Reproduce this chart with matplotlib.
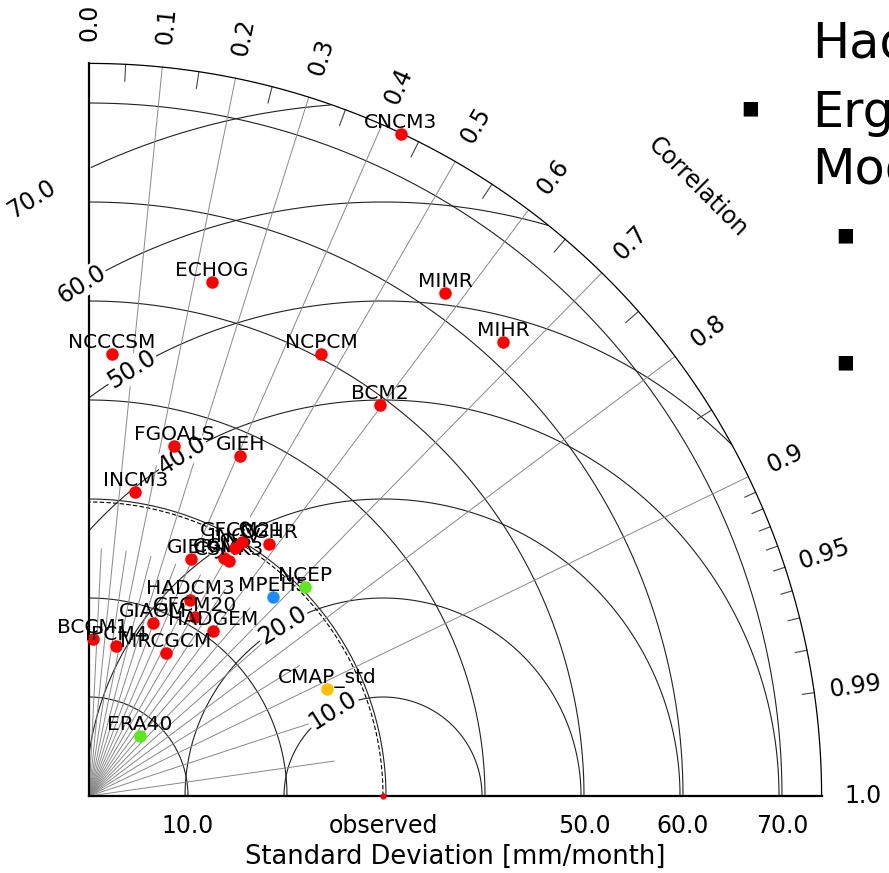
# Taylor diagram of precipitation std / correlation vs observed
import numpy as np
import matplotlib as mpl
mpl.use('Agg')
import matplotlib.pyplot as plt

# ---- data ----
models = ['CNCM3', 'ECHOG', 'MIMR', 'MIHR', 'NCCCSM', 'NCPCM', 'BCM2',
          'FGOALS', 'GIEH', 'INCM3', 'GIER', 'CGMR', 'CSMK3', 'INGV',
          'GFCM21', 'CGHR', 'HADCM3', 'GFCM20', 'GIAOM', 'HADGEM',
          'BCCM1', 'IPCM4', 'MRCGCM', 'MPEH5', 'NCEP', 'CMAP_std', 'ERA40']
model_std = [73.9, 53.4, 62.3, 62.1, 44.7, 50.4, 49.2,
             36.4, 37.6, 31.1, 26.1, 27.6, 27.6, 29.1,
             30.0, 31.3, 22.3, 21.0, 18.6, 20.9,
             15.9, 15.4, 16.4, 27.4, 30.4, 26.4, 7.95]
model_corr = [0.426, 0.233, 0.578, 0.674, 0.052, 0.465, 0.597,
              0.236, 0.406, 0.150, 0.395, 0.493, 0.512, 0.507,
              0.516, 0.581, 0.458, 0.510, 0.347, 0.601,
              0.026, 0.177, 0.474, 0.679, 0.719, 0.912, 0.648]
model_color = ['red'] * 23 + ['#1a8cff', '#5ee81c', '#ffc000', '#5ee81c']

obs_std = 29.7
std_max = 74.0
std_levels = [10, 20, 30, 40, 50, 60, 70]
rms_levels = [10, 20, 30, 40, 50, 60, 70]
corr_major = [0.1, 0.2, 0.3, 0.4, 0.5, 0.6, 0.7, 0.8, 0.9]
corr_short = [0.05, 0.15, 0.25, 0.35, 0.45, 0.55, 0.65, 0.75, 0.85, 0.95, 0.99]
corr_fine = [0.91, 0.92, 0.93, 0.94, 0.95, 0.96, 0.97, 0.98, 0.99]
corr_labels = [0.0, 0.1, 0.2, 0.3, 0.4, 0.5, 0.6, 0.7, 0.8, 0.9, 0.95, 0.99, 1.0]
x_ticks = [10, obs_std, 50, 60, 70]
x_ticklabels = ['10.0', 'observed', '50.0', '60.0', '70.0']

PX = 9.9  # pixels per data unit

fig = plt.figure(figsize=(8.89, 8.73), dpi=100)
ax = fig.add_axes([0, 0, 1, 1])
ax.set_xlim(-89 / PX, 800 / PX)
ax.set_ylim(-77 / PX, 796 / PX)
ax.set_aspect('equal')
ax.axis('off')

th = np.linspace(0, np.pi / 2, 400)

# std arcs around the origin
for s in std_levels:
    ax.plot(s * np.cos(th), s * np.sin(th), color='#222222', lw=0.8, zorder=1)
ax.plot(obs_std * np.cos(th), obs_std * np.sin(th), color='black', lw=0.8,
        ls=(0, (4, 2)), zorder=1)
ax.plot(std_max * np.cos(th), std_max * np.sin(th), color='black', lw=0.9, zorder=2)

# rms arcs around the observed point
tt = np.linspace(0, np.pi, 800)
for r in rms_levels:
    x = obs_std + r * np.cos(tt)
    y = r * np.sin(tt)
    bad = (x < 0) | (x ** 2 + y ** 2 > std_max ** 2)
    x[bad] = np.nan
    y[bad] = np.nan
    ax.plot(x, y, color='#222222', lw=0.8, zorder=1)

# correlation lines and ticks
for c in corr_major:
    a = np.arccos(c)
    ax.plot([0, std_max * np.cos(a)], [0, std_max * np.sin(a)], color='#888888',
            lw=0.7, zorder=1)
for c in corr_short:
    a = np.arccos(c)
    ax.plot([0, 25 * np.cos(a)], [0, 25 * np.sin(a)], color='#888888',
            lw=0.7, zorder=1)
for c in corr_short[:-2]:
    a = np.arccos(c)
    ax.plot([(std_max - 1.7) * np.cos(a), std_max * np.cos(a)],
            [(std_max - 1.7) * np.sin(a), std_max * np.sin(a)], color='#444444',
            lw=0.8, zorder=1)
for c in corr_fine:
    a = np.arccos(c)
    ax.plot([(std_max - 1.2) * np.cos(a), std_max * np.cos(a)],
            [(std_max - 1.2) * np.sin(a), std_max * np.sin(a)], color='#444444',
            lw=0.8, zorder=1)

for c in corr_labels:
    a = np.arccos(c)
    lab = '%.1f' % c if c not in (0.95, 0.99) else '%.2f' % c
    ax.text(78.2 * np.cos(a), 78.2 * np.sin(a), lab, fontsize=17,
            rotation=np.degrees(a), rotation_mode='anchor',
            ha='center', va='center')
ax.text(87 * np.cos(np.pi / 4), 87 * np.sin(np.pi / 4), 'Correlation',
        fontsize=17, rotation=-45, rotation_mode='anchor', ha='center', va='center')

# axes
ax.plot([0, std_max], [0, 0], color='black', lw=1.6, zorder=3)
ax.plot([0, 0], [0, std_max], color='black', lw=1.6, zorder=3)
for xt, lab in zip(x_ticks, x_ticklabels):
    ax.text(xt, -3.0, lab, fontsize=17, ha='center', va='center')
ax.text(37.0, -6.2, 'Standard Deviation [mm/month]', fontsize=18.5,
        ha='center', va='center')

# rms labels
ang = np.radians(120.5)
for r in rms_levels:
    ax.text(obs_std + r * np.cos(ang), r * np.sin(ang), '%.1f' % r, fontsize=17,
            rotation=32, rotation_mode='anchor', ha='center', va='center',
            bbox=dict(boxstyle='square,pad=0.05', fc='white', ec='none'), zorder=4)

# models
for i, (name, s, c, col) in enumerate(zip(models, model_std, model_corr, model_color)):
    x = s * c
    y = s * np.sqrt(1 - c ** 2)
    ax.plot(x, y, 'o', ms=9, color=col, mec='none', zorder=5 + 2 * i)
    ax.text(x, y + 0.6, name, fontsize=14.5, ha='center', va='baseline',
            zorder=6 + 2 * i)
ax.plot(obs_std, 0, 'o', ms=4.5, color='red', mec='none', zorder=80)

# slide text at the right edge
fig.text(812 / 889, 1 - 58 / 873, 'Had', fontsize=35.5, va='baseline')
fig.text(812 / 889, 1 - 127 / 873, 'Erg', fontsize=35.5, va='baseline')
fig.text(812 / 889, 1 - 183 / 873, 'Mod', fontsize=35.5, va='baseline')
for bx, by in [(750, 108), (845, 235), (845, 362)]:
    fig.text(bx / 889, 1 - by / 873, '\u25a0', fontsize=13.5, ha='center', va='center')

fig.savefig('out.png', dpi=100)
